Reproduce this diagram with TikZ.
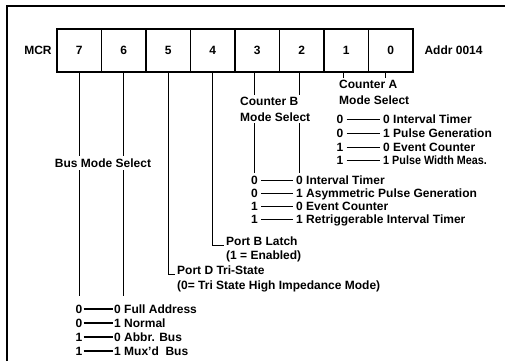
\documentclass[tikz,border=0pt]{standalone}
\usepackage{fontspec}
\setmainfont{Liberation Sans}
\usepackage{tikz}
\usetikzlibrary{positioning}

\begin{document}
\begin{tikzpicture}[x=1pt, y=-1pt, font=\fontsize{12}{16}\selectfont\bfseries,
        bit/.style={draw, line width=1.6pt, minimum width=44.5pt, minimum height=43pt, inner sep=0pt, outer sep=0pt},
        wire/.style={line width=0.9pt},
        val/.style={inner sep=3pt, text height=8.6pt, text depth=0pt},
        busval/.style={inner sep=1pt, text height=8.6pt, text depth=0pt},
        txt/.style={anchor=west, inner sep=2pt}]
        \useasboundingbox (0,0) rectangle (505,361);
        \draw[line width=1.4pt] (7,361) -- (7,6) -- (505,6);

        \node (mcr) at (38,50.5) {MCR};
        \node [bit] (b7) at (79.25,50.5) {7};
        \node [bit, right=0pt of b7] (b6) {6};
        \node [bit, right=0pt of b6] (b5) {5};
        \node [bit, right=0pt of b5] (b4) {4};
        \node [bit, right=0pt of b4] (b3) {3};
        \node [bit, right=0pt of b3] (b2) {2};
        \node [bit, right=0pt of b2] (b1) {1};
        \node [bit, right=0pt of b1] (b0) {0};
        \node [right=8pt of b0] (addr) {Addr 0014};

        % Counter A
        \node [txt, align=left] (cntA) at (337,92) {Counter A\\Mode Select};
        \draw[wire] ([xshift=-3pt]b1.south) -- ([xshift=-3pt]b1.south |- cntA.north);
        \draw[wire] ([xshift=-5.5pt]b0.south) -- ([xshift=-5.5pt]b0.south |- cntA.north);
        \node [val] (aL1) at (340,119) {0};
        \node [val, anchor=west] (aR1) at (380,119) {0 Interval Timer};
        \node [val] (aL2) at (340,133) {0};
        \node [val, anchor=west] (aR2) at (380,133) {1 Pulse Generation};
        \node [val] (aL3) at (340,147) {1};
        \node [val, anchor=west] (aR3) at (380,147) {0 Event Counter};
        \node [val] (aL4) at (340,160) {1};
        \node [val, anchor=west] (aR4) at (380,160) {\scalebox{0.9}[1]{1 Pulse Width Meas.}};
        \draw[wire] (aL1) -- (aR1);
        \draw[wire] (aL2) -- (aR2);
        \draw[wire] (aL3) -- (aR3);
        \draw[wire] (aL4) -- (aR4);

        % Counter B
        \node [txt, align=left] (cntB) at (238,109) {Counter B\\Mode Select};
        \node [val] (bL1) at (254.5,180) {0};
        \node [val, anchor=west] (bR1) at (293,180) {0 Interval Timer};
        \node [val] (bL2) at (254.5,193) {0};
        \node [val, anchor=west] (bR2) at (293,193) {1 Asymmetric Pulse Generation};
        \node [val] (bL3) at (254.5,206) {1};
        \node [val, anchor=west] (bR3) at (293,206) {0 Event Counter};
        \node [val] (bL4) at (254.5,219) {1};
        \node [val, anchor=west] (bR4) at (293,219) {1 Retriggerable Interval Timer};
        \draw[wire] (b3.south -| bL1) -- (bL1 |- cntB.north);
        \draw[wire] (bL1 |- cntB.south) -- (bL1);
        \draw[wire] ([xshift=-2pt]b2.south) -- ([xshift=-2pt]b2.south |- cntB.north);
        \draw[wire] ([xshift=-2pt]b2.south |- cntB.south) -- ([xshift=-2pt]b2.south |- bR1.north);
        \draw[wire] (bL1) -- (bR1);
        \draw[wire] (bL2) -- (bR2);
        \draw[wire] (bL3) -- (bR3);
        \draw[wire] (bL4) -- (bR4);

        % Port B and Port D
        \node [txt] (portB) at (224,241) {Port B Latch};
        \node [txt] (portBn) at (224,256) {(1 = Enabled)};
        \draw[wire] (b4.south) |- (portB.base west);
        \node [txt] (portD) at (175,270) {Port D Tri-State};
        \node [txt] (portDn) at (175,286) {(0= Tri State High Impedance Mode)};
        \draw[wire] (b5.south) |- (portD.base west);

        % Bus mode
        \node [busval] (busL1) at (79,309) {0};
        \node [busval, anchor=west] (busR1) at (113,309) {0 Full Address};
        \node [busval] (busL2) at (79,323) {0};
        \node [busval, anchor=west] (busR2) at (113,323) {1 Normal};
        \node [busval] (busL3) at (79,337) {1};
        \node [busval, anchor=west] (busR3) at (113,337) {0 Abbr. Bus};
        \node [busval] (busL4) at (79,351) {1};
        \node [busval, anchor=west] (busR4) at (113,351) {1 Mux'd~~Bus};
        \draw[line width=1.3pt] (busL1) -- (busR1);
        \draw[line width=1.3pt] (busL2) -- (busR2);
        \draw[line width=1.3pt] (busL3) -- (busR3);
        \draw[line width=1.3pt] (busL4) -- (busR4);
        \draw[wire, shorten >=8pt] (b7.south) -- (b7.south |- busL1.north);
        \draw[wire, shorten >=8pt] (b6.south) -- (b6.south |- busL1.north);
        \node [fill=white, inner sep=3pt] (busmode) at (103,163) {Bus Mode Select};
\end{tikzpicture}
\end{document}
